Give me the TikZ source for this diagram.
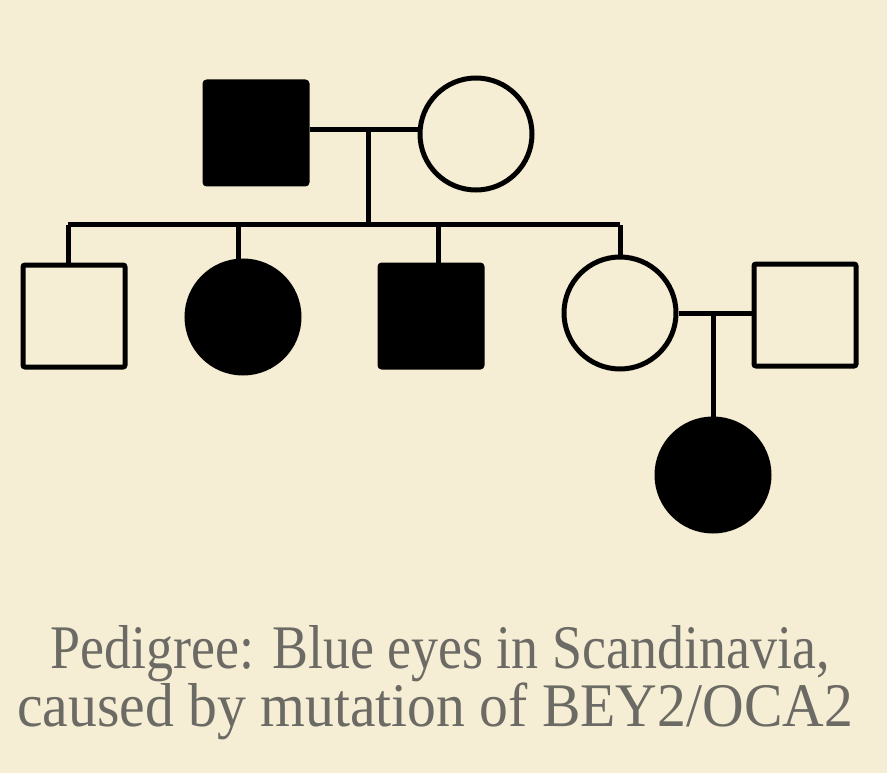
\documentclass[tikz,border=0pt]{standalone}
\usepackage{fontspec}
\setmainfont{Liberation Serif}
\begin{document}
\begin{tikzpicture}[x=1pt,y=-1pt,
  ln/.style={line width=5pt, draw=black},
  male/.style={ln, rectangle, rounded corners=2pt, minimum width=102pt, minimum height=102pt, inner sep=0pt},
  female/.style={ln, circle, minimum size=112pt, inner sep=0pt},
  aff/.style={fill=black},
  unaff/.style={fill=none},
  captext/.style={text=txtgray, font=\fontsize{62}{64}\selectfont, inner sep=0pt, anchor=base}]
\definecolor{bg}{HTML}{F6EED4}
\definecolor{txtgray}{HTML}{6C6A64}
\fill[bg] (0,0) rectangle (887,773);
\useasboundingbox (0,0) rectangle (887,773);
% generation I
\node[male,aff] (f) at (256,133) {};
\node[female,unaff] (m) at (476,134) {};
\coordinate (j1) at (368,130);
\coordinate (s1) at (368,225);
\draw[ln] (f.east |- j1) -- (m.west |- j1);
\draw[ln] (j1) -- (s1);
% generation II
\node[male,unaff] (c1) at (74,316) {};
\node[female,aff] (c2) at (243,317) {};
\node[male,aff] (c3) at (431,316) {};
\node[female,unaff] (c4) at (620,313) {};
\node[male,unaff] (sp) at (805,315) {};
\coordinate (d1) at (68,225);
\coordinate (d2) at (238,225);
\coordinate (d3) at (438,225);
\coordinate (d4) at (620,225);
\draw[ln] (d1) -- (d4);
\draw[ln] (d1) -- (d1 |- c1.north);
\draw[ln] (d2) -- (d2 |- c2.north);
\draw[ln] (d3) -- (d3 |- c3.north);
\draw[ln] (d4) -- (c4.north);
% second marriage
\coordinate (j2) at (713,313);
\draw[ln] (c4.east) -- (sp.west |- c4.east);
% generation III
\node[female,aff] (g) at (713,475) {};
\draw[ln] (j2) -- (g.north);
% caption
\node[captext] (t1) at (440,668) {\scalebox{0.87}[1]{Pedigree: Blue eyes in Scandinavia,}};
\node[captext] (t2) at (435,726) {\scalebox{0.93}[1]{caused by mutation of BEY2/OCA2}};
\end{tikzpicture}
\end{document}
